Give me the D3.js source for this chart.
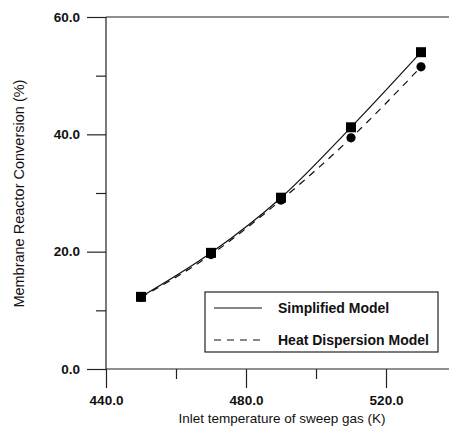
<!DOCTYPE html>
<html>
<head>
<meta charset="utf-8">
<script src="https://cdn.jsdelivr.net/npm/d3@7"></script>
<style>
  body { margin: 0; background: #fff; }
  svg { display: block; font-family: 'Liberation Sans', Arial, sans-serif; }
</style>
</head>
<body>
<div id="chart"></div>
<script>
// inlet temperature (K)
const temps = [450, 470, 490, 510, 530];
// conversion (%)
const simplified = [12.3, 19.8, 29.2, 41.2, 54.0];
const heatDispersion = [12.2, 19.5, 28.8, 39.4, 51.5];

const xTicks = [440, 480, 520];
const xMinor = [460, 500];
const yTicks = [0, 20, 40, 60];
const yMinor = [10, 30, 50];

const W = 449, H = 427;
const margin = { top: 17, left: 106, bottom: 58 };
const plotH = H - margin.top - margin.bottom;

const svg = d3.select('#chart')
  .append('svg')
  .attr('width', W)
  .attr('height', H);

const g = svg.append('g')
  .attr('transform', `translate(${margin.left},${margin.top})`);

// x range runs past the right edge (cropped figure)
const x = d3.scaleLinear().domain([440, 540]).range([0, 350]);
const y = d3.scaleLinear().domain([0, 60]).range([plotH, 0]);

const fmt = d3.format('.1f');

// x axis
const xAxis = g.append('g')
  .attr('transform', `translate(0,${plotH})`)
  .call(d3.axisBottom(x).tickValues(xTicks).tickSize(19).tickPadding(7).tickFormat(fmt));
xAxis.append('g')
  .call(d3.axisBottom(x).tickValues(xMinor).tickSize(10).tickFormat(''));

// y axis
const yAxis = g.append('g')
  .call(d3.axisLeft(y).tickValues(yTicks).tickSize(19).tickPadding(7).tickFormat(fmt));
yAxis.append('g')
  .call(d3.axisLeft(y).tickValues(yMinor).tickSize(10).tickFormat(''));

g.selectAll('.domain').remove();
g.selectAll('.tick line').attr('stroke', '#222').attr('stroke-width', 1.2);
g.selectAll('.tick text')
  .attr('fill', '#111')
  .style('font-size', '13.5px')
  .style('font-weight', 'bold');

// spines: left, bottom, top (right side cropped)
g.append('line').attr('x1', 0).attr('x2', 0).attr('y1', 0).attr('y2', plotH)
  .attr('stroke', '#222').attr('stroke-width', 1.2);
g.append('line').attr('x1', 0).attr('x2', W).attr('y1', plotH).attr('y2', plotH)
  .attr('stroke', '#222').attr('stroke-width', 1.2);
g.append('line').attr('x1', 0).attr('x2', W).attr('y1', 0).attr('y2', 0)
  .attr('stroke', '#222').attr('stroke-width', 1.2);

// axis titles
svg.append('text')
  .attr('x', margin.left + x(490.3))
  .attr('y', 423)
  .attr('text-anchor', 'middle')
  .style('font-size', '13.5px')
  .attr('fill', '#111')
  .text('Inlet temperature of sweep gas (K)');

svg.append('text')
  .attr('transform', `translate(24,${margin.top + y(29.9)}) rotate(-90)`)
  .attr('text-anchor', 'middle')
  .style('font-size', '14.5px')
  .attr('fill', '#111')
  .text('Membrane Reactor Conversion (%)');

const line = d3.line()
  .x((d, i) => x(temps[i]))
  .y(d => y(d))
  .curve(d3.curveMonotoneX);

g.append('path')
  .datum(simplified)
  .attr('d', line)
  .attr('fill', 'none')
  .attr('stroke', '#111')
  .attr('stroke-width', 1.2);

g.append('path')
  .datum(heatDispersion)
  .attr('d', line)
  .attr('fill', 'none')
  .attr('stroke', '#111')
  .attr('stroke-width', 1.2)
  .attr('stroke-dasharray', '7,6');

// markers
g.selectAll('.dot')
  .data(heatDispersion)
  .enter()
  .append('circle')
  .attr('class', 'dot')
  .attr('cx', (d, i) => x(temps[i]))
  .attr('cy', d => y(d))
  .attr('r', 4.6)
  .attr('fill', '#000');

const sq = 10;
g.selectAll('.sq')
  .data(simplified)
  .enter()
  .append('rect')
  .attr('class', 'sq')
  .attr('x', (d, i) => x(temps[i]) - sq / 2)
  .attr('y', d => y(d) - sq / 2)
  .attr('width', sq)
  .attr('height', sq)
  .attr('fill', '#000');

// legend
const legend = svg.append('g').attr('transform', 'translate(205,292)');
legend.append('rect')
  .attr('width', 233)
  .attr('height', 60)
  .attr('fill', '#fff')
  .attr('stroke', '#222')
  .attr('stroke-width', 1.2);

const items = [
  { label: 'Simplified Model', dash: null },
  { label: 'Heat Dispersion Model', dash: '7,6' }
];
const row = legend.selectAll('.item')
  .data(items)
  .enter()
  .append('g')
  .attr('transform', (d, i) => `translate(0,${16 + i * 32})`);

row.append('line')
  .attr('x1', 9).attr('x2', 57)
  .attr('stroke', '#111')
  .attr('stroke-width', 1.2)
  .attr('stroke-dasharray', d => d.dash);

row.append('text')
  .attr('x', 73)
  .attr('dy', '0.35em')
  .style('font-size', '14px')
  .style('font-weight', 'bold')
  .attr('fill', '#111')
  .text(d => d.label);
</script>
</body>
</html>
